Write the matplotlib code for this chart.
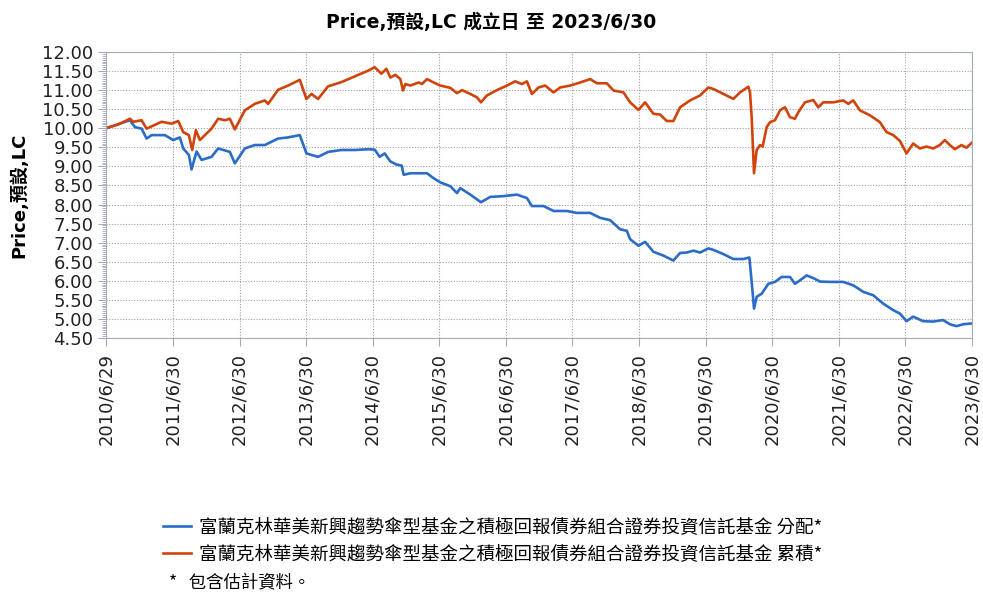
import datetime as dt
import matplotlib
matplotlib.use("Agg")
import matplotlib.pyplot as plt
from matplotlib.ticker import MultipleLocator

plt.rcParams['font.family'] = ['DejaVu Sans', 'Noto Sans CJK TC']

# fund NAV, x in decimal years
dist_x = [2010.49, 2010.85, 2010.925, 2011.025, 2011.1, 2011.175, 2011.375, 2011.5, 2011.6,
          2011.65, 2011.735, 2011.775, 2011.85, 2011.925, 2012.075, 2012.175, 2012.35, 2012.425,
          2012.575, 2012.725, 2012.875, 2013.075, 2013.225, 2013.4, 2013.5, 2013.675, 2013.825,
          2014.025, 2014.225, 2014.425, 2014.525, 2014.6, 2014.675, 2014.76, 2014.85, 2014.93,
          2014.96, 2015.06, 2015.21, 2015.31, 2015.41, 2015.51, 2015.66, 2015.76, 2015.81,
          2015.96, 2016.12, 2016.26, 2016.46, 2016.66, 2016.81, 2016.885, 2017.06, 2017.21,
          2017.41, 2017.56, 2017.76, 2017.91, 2018.06, 2018.21, 2018.31, 2018.36, 2018.485,
          2018.585, 2018.71, 2018.86, 2019.01, 2019.11, 2019.21, 2019.31, 2019.41, 2019.535,
          2019.61, 2019.76, 2019.91, 2020.06, 2020.15, 2020.185, 2020.22, 2020.26, 2020.335,
          2020.435, 2020.535, 2020.635, 2020.76, 2020.835, 2020.91, 2021.01, 2021.11, 2021.21,
          2021.36, 2021.56, 2021.71, 2021.86, 2022.01, 2022.16, 2022.31, 2022.41, 2022.51,
          2022.61, 2022.76, 2022.91, 2023.06, 2023.16, 2023.26, 2023.36, 2023.49]
dist_y = [10.00, 10.21, 10.03, 9.99, 9.73, 9.82, 9.82, 9.69, 9.76,
          9.47, 9.30, 8.92, 9.39, 9.17, 9.25, 9.47, 9.38, 9.08,
          9.47, 9.56, 9.56, 9.73, 9.76, 9.82, 9.34, 9.25, 9.38,
          9.43, 9.43, 9.45, 9.44, 9.25, 9.34, 9.13, 9.05, 9.02,
          8.78, 8.82, 8.82, 8.82, 8.69, 8.58, 8.48, 8.30, 8.43,
          8.26, 8.06, 8.20, 8.22, 8.26, 8.17, 7.96, 7.96, 7.83,
          7.83, 7.78, 7.78, 7.65, 7.59, 7.35, 7.31, 7.09, 6.92,
          7.02, 6.76, 6.66, 6.53, 6.73, 6.74, 6.79, 6.74, 6.85,
          6.81, 6.70, 6.57, 6.57, 6.61, 5.97, 5.27, 5.58, 5.66,
          5.92, 5.97, 6.10, 6.10, 5.92, 6.01, 6.14, 6.07, 5.98,
          5.97, 5.97, 5.88, 5.71, 5.62, 5.40, 5.23, 5.14, 4.94,
          5.06, 4.94, 4.93, 4.97, 4.86, 4.81, 4.86, 4.88]

acc_x = [2010.49, 2010.675, 2010.85, 2010.9, 2011.025, 2011.1, 2011.175, 2011.325, 2011.475,
         2011.575, 2011.65, 2011.735, 2011.785, 2011.84, 2011.9, 2011.975, 2012.075, 2012.175,
         2012.275, 2012.35, 2012.425, 2012.575, 2012.725, 2012.875, 2012.925, 2013.075, 2013.225,
         2013.4, 2013.5, 2013.575, 2013.675, 2013.825, 2014.025, 2014.225, 2014.425, 2014.525,
         2014.625, 2014.7, 2014.76, 2014.835, 2014.91, 2014.95, 2014.985, 2015.06, 2015.185,
         2015.235, 2015.31, 2015.41, 2015.51, 2015.66, 2015.76, 2015.835, 2015.96, 2016.06,
         2016.12, 2016.21, 2016.36, 2016.51, 2016.635, 2016.735, 2016.81, 2016.885, 2016.985,
         2017.085, 2017.21, 2017.31, 2017.46, 2017.61, 2017.76, 2017.86, 2018.01, 2018.11,
         2018.26, 2018.36, 2018.485, 2018.585, 2018.71, 2018.81, 2018.91, 2019.01, 2019.11,
         2019.26, 2019.41, 2019.535, 2019.61, 2019.76, 2019.91, 2020.01, 2020.135, 2020.16,
         2020.185, 2020.22, 2020.26, 2020.31, 2020.35, 2020.41, 2020.46, 2020.535, 2020.61,
         2020.685, 2020.76, 2020.835, 2020.885, 2020.985, 2021.11, 2021.185, 2021.26, 2021.41,
         2021.56, 2021.635, 2021.71, 2021.81, 2021.96, 2022.11, 2022.21, 2022.31, 2022.41,
         2022.51, 2022.61, 2022.71, 2022.81, 2022.91, 2023.01, 2023.085, 2023.16, 2023.235,
         2023.335, 2023.41, 2023.49]
acc_y = [10.00, 10.10, 10.25, 10.17, 10.21, 9.99, 10.05, 10.17, 10.12,
         10.19, 9.90, 9.82, 9.43, 9.95, 9.69, 9.82, 9.99, 10.25,
         10.21, 10.25, 9.97, 10.47, 10.64, 10.73, 10.64, 11.01, 11.12,
         11.27, 10.77, 10.90, 10.77, 11.10, 11.21, 11.36, 11.51, 11.60,
         11.43, 11.56, 11.33, 11.40, 11.29, 10.99, 11.16, 11.12, 11.20,
         11.16, 11.29, 11.20, 11.12, 11.06, 10.92, 11.00, 10.90, 10.81,
         10.68, 10.86, 11.00, 11.12, 11.23, 11.16, 11.23, 10.90, 11.07,
         11.12, 10.94, 11.07, 11.12, 11.20, 11.29, 11.18, 11.18, 10.99,
         10.94, 10.68, 10.48, 10.68, 10.38, 10.36, 10.19, 10.19, 10.55,
         10.73, 10.86, 11.07, 11.03, 10.90, 10.77, 10.94, 11.09, 10.94,
         10.29, 8.82, 9.43, 9.56, 9.52, 10.03, 10.16, 10.21, 10.47,
         10.55, 10.29, 10.25, 10.42, 10.68, 10.74, 10.55, 10.68, 10.68,
         10.73, 10.64, 10.73, 10.47, 10.34, 10.16, 9.90, 9.82, 9.67,
         9.34, 9.60, 9.47, 9.52, 9.47, 9.56, 9.69, 9.56, 9.45,
         9.56, 9.49, 9.62]

tick_dates = ["2010/6/29"] + ["%d/6/30" % y for y in range(2011, 2024)]
fund = "富蘭克林華美新興趨勢傘型基金之積極回報債券組合證券投資信託基金"
labels = [fund + " 分配*", fund + " 累積*"]
colors = ["#2b6cc8", "#d0440c"]


def dec_year(s):
    d = dt.datetime.strptime(s, "%Y/%m/%d")
    return d.year + (d.timetuple().tm_yday - 1) / 365.25


fig = plt.figure(figsize=(9.83, 5.95), dpi=100)
ax = fig.add_axes([0.1078, 0.432, 0.881, 0.4806])

l1, = ax.plot(dist_x, dist_y, color=colors[0], lw=1.9)
l2, = ax.plot(acc_x, acc_y, color=colors[1], lw=1.9)

ax.set_ylim(4.5, 12.0)
ax.set_xlim(dec_year(tick_dates[0]), dec_year(tick_dates[-1]))
ax.yaxis.set_major_locator(MultipleLocator(0.5))
ax.yaxis.set_minor_locator(MultipleLocator(0.05))
ax.yaxis.set_major_formatter(matplotlib.ticker.FormatStrFormatter("%.2f"))
ax.set_xticks([dec_year(s) for s in tick_dates])
ax.set_xticklabels(tick_dates, rotation=90)

ax.grid(True, which="major", color="#a0a0a0", linestyle=(0, (1, 1.5)), lw=0.8)
for s in ax.spines.values():
    s.set_color("#a4abb8")
ax.tick_params(axis="both", which="major", colors="#a4abb8", labelcolor="#222222",
               labelsize=13, length=6, direction="out")
ax.tick_params(axis="y", which="minor", colors="#a4abb8", length=3)
ax.tick_params(axis="x", pad=5)
ax.tick_params(axis="y", pad=3)

fig.text(0.5, 0.962, "Price,預設,LC 成立日 至 2023/6/30", ha="center", va="center",
         fontsize=13.5, fontweight="bold")
fig.text(0.019, 0.672, "Price,預設,LC", rotation=90, ha="center", va="center",
         fontsize=13, fontweight="bold")

leg = fig.legend([l1, l2], labels, loc="upper left", bbox_to_anchor=(0.149, 0.156),
                 frameon=False, handlelength=1.5, handletextpad=0.45, labelspacing=0.48,
                 prop={"family": ["Noto Sans CJK TC", "DejaVu Sans"], "size": 13.3})
fig.text(0.172, 0.02, "*   包含估計資料。", family=["Noto Sans CJK TC", "DejaVu Sans"],
         fontsize=12.5, ha="left", va="center")

fig.savefig("out.png", dpi=100)
